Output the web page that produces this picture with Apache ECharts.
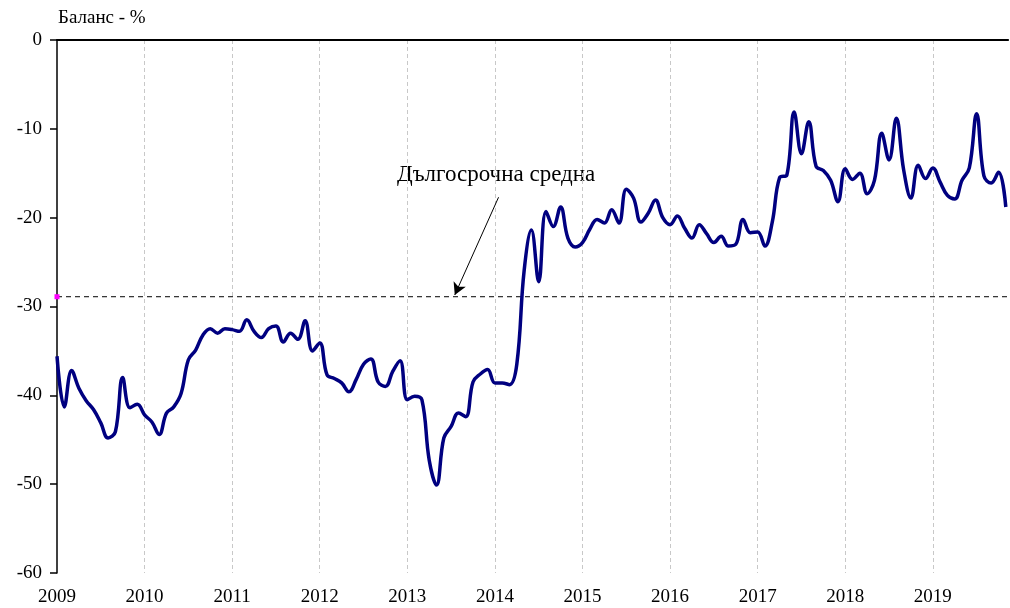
<!DOCTYPE html>
<html>
<head>
<meta charset="utf-8">
<script src="https://cdn.jsdelivr.net/npm/echarts@6/dist/echarts.min.js"></script>
<style>html,body{margin:0;padding:0;background:#fff}#c{width:1010px;height:608px}</style>
</head>
<body>
<div id="c"></div>
<script>
// Monthly balance, Jan 2009 onward (month index 0 = Jan 2009)
var yearLabels = ['2009','2010','2011','2012','2013','2014','2015','2016','2017','2018','2019'];
var yTicks = [0, -10, -20, -30, -40, -50, -60];
var balance = [
  -35.6,-41.3,-37.2,-39.2,-40.6,-41.6,-43.1,-44.8,-44.1,-38.0,-41.4,-41.0,
  -42.2,-43.0,-44.4,-42.0,-41.3,-39.8,-36.0,-34.9,-33.2,-32.5,-33.0,-32.5,
  -32.6,-32.8,-31.5,-32.8,-33.5,-32.5,-32.2,-34.0,-33.0,-33.7,-31.6,-35.0,
  -34.1,-37.7,-38.1,-38.6,-39.6,-38.2,-36.5,-35.9,-38.5,-39.0,-37.3,-36.1,
  -40.5,-40.1,-40.5,-47.3,-50.1,-44.8,-43.5,-42.0,-42.4,-38.5,-37.6,-37.1,
  -38.6,-38.6,-38.8,-36.5,-26.0,-21.4,-27.2,-19.3,-21.0,-18.8,-22.3,-23.3,
  -22.8,-21.3,-20.2,-20.6,-19.1,-20.6,-16.8,-17.8,-20.5,-19.5,-18.0,-20.0,
  -20.8,-19.8,-21.2,-22.3,-20.8,-21.8,-22.8,-22.1,-23.2,-23.0,-20.2,-21.7,
  -21.6,-23.2,-20.5,-15.5,-15.2,-8.1,-12.8,-9.2,-14.2,-14.7,-15.8,-18.2,
  -14.5,-15.7,-15.0,-17.3,-15.8,-10.5,-13.5,-8.8,-14.6,-17.8,-14.1,-15.6,
  -14.4,-16.0,-17.5,-17.9,-15.8,-14.4,-8.3,-15.3,-16.1,-14.9,-18.8
];
var longTermAverage = -28.9;
var annotationText = 'Дългосрочна средна';
var arrowFrom = [60.5, -17.7];
var arrowTo = [54.5, -28.7];

var lineData = balance.map(function (v, i) { return [i, v]; });
var xMax = 130.3;

var chart = echarts.init(document.getElementById('c'));
var font = '"Liberation Serif", "Times New Roman", serif';
chart.setOption({
  animation: false,
  grid: { left: 57, right: 2, top: 40, bottom: 35, containLabel: false },
  xAxis: [{
    type: 'value', min: 0, max: xMax, interval: 12,
    axisLine: { show: true, lineStyle: { color: '#999', width: 2 } },
    axisTick: { show: false },
    axisLabel: {
      color: '#000', fontFamily: font, fontSize: 19, margin: 15, showMaxLabel: false,
      formatter: function (v) { var k = Math.round(v / 12); return (Math.abs(v - 12 * k) < 1e-6 && k < yearLabels.length) ? yearLabels[k] : ''; }
    },
    splitLine: { show: true, showMinLine: false, showMaxLine: false, lineStyle: { color: '#c8c8c8', type: [4, 3], width: 1 } }
  }, {
    type: 'value', min: 0, max: xMax, position: 'top',
    axisLine: { show: true, onZero: false, lineStyle: { color: '#000', width: 2 } },
    axisTick: { show: false }, axisLabel: { show: false }, splitLine: { show: false }
  }],
  yAxis: {
    type: 'value', min: -60, max: 0, interval: 10,
    axisLine: { show: true, lineStyle: { color: '#000', width: 1.5 } },
    axisTick: { show: true, length: 7, lineStyle: { color: '#000', width: 1.5 } },
    axisLabel: { color: '#000', fontFamily: font, fontSize: 19, margin: 15 },
    splitLine: { show: false }
  },
  graphic: [
    { type: 'text', left: 58, top: 9, style: { text: 'Баланс - %', fill: '#000', font: '19px ' + font } },
    { type: 'text', left: 397, top: 163, style: { text: annotationText, fill: '#000', font: '23px ' + font } }
  ],
  series: [{
    name: 'Средна',
    type: 'line',
    data: [[0, longTermAverage], { value: [xMax, longTermAverage], symbol: 'none' }],
    symbol: 'rect', symbolSize: [5, 5], showSymbol: true,
    itemStyle: { color: '#ff00ff' },
    lineStyle: { color: '#000', type: [5, 4], width: 1 },
    z: 3,
    markLine: {
      silent: true, symbol: ['none', 'arrow'], symbolSize: [10, 12],
      lineStyle: { color: '#000', type: 'solid', width: 1 },
      label: { show: false },
      data: [[{ coord: arrowFrom }, { coord: arrowTo }]]
    }
  }, {
    name: 'Баланс',
    type: 'line',
    data: lineData,
    smooth: 0.4,
    showSymbol: false,
    lineStyle: { color: '#000080', width: 3.5 },
    z: 4
  }]
});
</script>
</body>
</html>
